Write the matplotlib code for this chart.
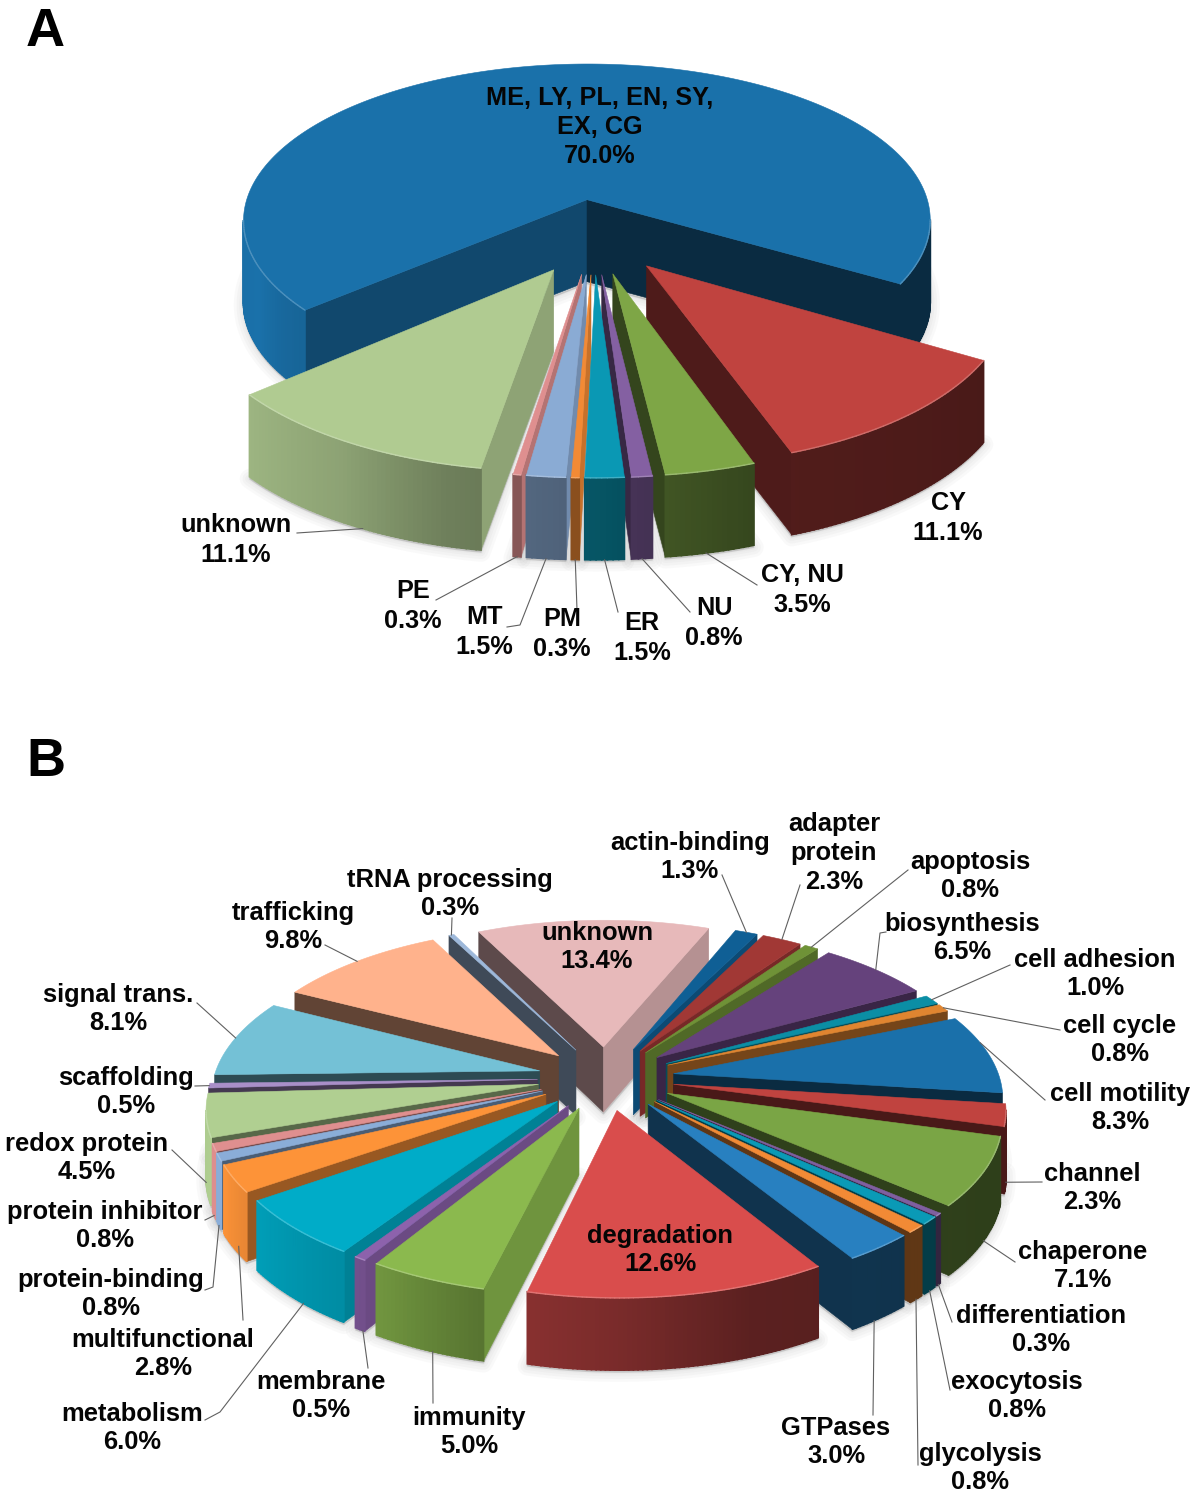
import numpy as np
import matplotlib
matplotlib.use("Agg")
import matplotlib.pyplot as plt

plt.rcParams['font.family'] = ['Liberation Sans', 'DejaVu Sans']

# ---------- panel A data ----------
a_names = ["ME, LY, PL, EN, SY,\nEX, CG", "CY", "CY, NU", "NU", "ER", "PM", "MT", "PE", "unknown"]
a_values = [70.0, 11.1, 3.5, 0.8, 1.5, 0.3, 1.5, 0.3, 11.1]
a_colors = ["#1a71aa", "#c0433f", "#7ea646", "#8460a2", "#0a98b4", "#f28a35", "#8aabd4", "#df8f8f", "#b0cb91"]
a_label_xy = [(600, 127), (948, 518), (802, 590), (714, 623), (642, 638), (562, 634), (484, 632), (413, 606), (236, 540)]
# leader: (arc fraction, end-of-line waypoints)
a_leaders = [None, None,
             (0.55, [(757, 585)]), (0.5, [(690, 612)]), (0.5, [(618, 612)]), (0.5, [(577, 610)]),
             (0.5, [(520, 625), (507, 627)]), (0.5, [(436, 600)]), (0.44, [(297, 533)])]

# ---------- panel B data ----------
b_names = ["unknown", "actin-binding", "adapter\nprotein", "apoptosis", "biosynthesis", "cell adhesion", "cell cycle",
           "cell motility", "channel", "chaperone", "differentiation", "exocytosis", "glycolysis", "GTPases",
           "degradation", "immunity", "membrane", "metabolism", "multifunctional", "protein-binding",
           "protein inhibitor", "redox protein", "scaffolding", "signal trans.", "trafficking", "tRNA processing"]
b_values = [13.4, 1.3, 2.3, 0.8, 6.5, 1.0, 0.8, 8.3, 2.3, 7.1, 0.3, 0.8, 0.8, 3.0, 12.6, 5.0, 0.5, 6.0, 2.8, 0.8, 0.8,
            4.5, 0.5, 8.1, 9.8, 0.3]
b_colors = ["#e7b9ba", "#0f5f95", "#a13835", "#6f9237", "#65427c", "#0b8ea5", "#e08530", "#1a70aa", "#c0433f", "#7aa545",
            "#7f5fa0", "#0a9ab6", "#f28a35", "#2880c0", "#d94d4c", "#8bb94e", "#8d62ac", "#00acc8", "#fd9338", "#8aadd8",
            "#df8f8f", "#b0cf91", "#a98fc8", "#74c1d6", "#ffb28c", "#9db8da"]
b_label_xy = [(597, 947), (690, 857), (834, 853), (970, 876), (962, 938), (1095, 974), (1120, 1040), (1120, 1108),
              (1092, 1188), (1083, 1266), (1041, 1330), (1017, 1396), (980, 1468), (836, 1442), (660, 1250), (469, 1432),
              (321, 1396), (132, 1428), (163, 1354), (111, 1294), (105, 1226), (87, 1158), (126, 1092), (118, 1009),
              (293, 927), (450, 894)]
# leader: (arc fraction, depth fraction, waypoints)
b_leaders = [None, (0.5, 0, [(722, 875)]), (0.5, 0, [(800, 885)]), (0.5, 0, [(908, 870)]),
             (0.5, 0, [(880, 933), (886, 932)]), (0.5, 0, [(1010, 965)]), (0.5, 0, [(1060, 1030)]),
             (0.35, 0, [(1045, 1100)]), (0.5, 1, [(1042, 1182)]), (0.5, 1, [(1015, 1262)]),
             (0.5, 1, [(952, 1322)]), (0.5, 1, [(950, 1390)]), (0.5, 1, [(918, 1465)]), (0.6, 1, [(873, 1415)]),
             None, (0.45, 1, [(433, 1403)]), (0.2, 1, [(368, 1368)]), (0.4, 1, [(220, 1412), (205, 1420)]),
             (0.3, 0.9, [(243, 1320)]), (0.5, 1, [(213, 1287), (205, 1290)]), (0.5, 1, [(205, 1220)]),
             (0.5, 1, [(172, 1150)]), (0.5, 0, [(195, 1086)]), (0.5, 0, [(197, 1003)]), (0.5, 0, [(325, 945)]),
             (0.5, 0, [(452, 918)])]

# ---------- pie geometry (layout) ----------
spec_a = dict(cx=594, cy=236, A=351, B=163.5, c=0.137, e=0.23, h=82, gamma=0.0, start=221.0)
spec_b = dict(cx=606, cy=1078, A=326, B=152, c=0.137, e=0.21, h=66, gamma=0.5, start=116.2)

fig = plt.figure(figsize=(12, 14.98), dpi=100)
ax = fig.add_axes([0, 0, 1, 1])
ax.set_xlim(0, 1200)
ax.set_ylim(1498, 0)
ax.axis('off')


def shade(col, f):
    r = np.array(matplotlib.colors.to_rgb(col))
    return tuple(np.clip(r * f, 0, 1))


def lighten(col, f):
    r = np.array(matplotlib.colors.to_rgb(col))
    return tuple(r + (1 - r) * f)


def outer_shade(theta):
    t = (theta + 180) % 360 - 180
    if t > 90:
        t -= 360
    return np.interp(t, [-220, -180, -155, -145, -120, -104, -90, -70, -30, 90],
                     [0.85, 0.97, 1.0, 0.92, 0.8, 0.63, 0.56, 0.42, 0.38, 0.38])


def radial_shade(n):
    n = (n + 180) % 360 - 180
    return np.interp(n, [-180, -120, -90, -55, -30, 0, 180], [0.42, 0.38, 0.38, 0.6, 0.77, 0.82, 0.5])


def project(s, X, Y, z=0.0):
    p = 1.0 / (1.0 + s['c'] * Y)
    return (s['cx'] + s['A'] * X * p, s['cy'] - s['B'] * Y * p + s['h'] * z * p ** s['gamma'])


def visible(P, Q, I):
    dx, dy = Q[0] - P[0], Q[1] - P[1]
    if dx == 0:
        return False
    return np.sign(dx) * (dx * (I[1] - P[1]) - dy * (I[0] - P[0])) < 0


def draw_pie(values, colors, s):
    vals = np.asarray(values, float)
    sweeps = vals / vals.sum() * 360.0
    ends = s['start'] - np.concatenate([[0], np.cumsum(sweeps)])
    info = []
    for i in range(len(vals)):
        t2, t1 = ends[i], ends[i + 1]
        mid = np.radians((t1 + t2) / 2)
        ox, oy = s['e'] * np.cos(mid), s['e'] * np.sin(mid)
        info.append(dict(i=i, t1=t1, t2=t2, mid=mid, ox=ox, oy=oy, col=colors[i]))

    def arc(w, z=0.0, t=None):
        th = np.radians(np.linspace(w['t1'], w['t2'], max(3, int((w['t2'] - w['t1']) * 1.5)))) if t is None else t
        return [project(s, w['ox'] + np.cos(a), w['oy'] + np.sin(a), z) for a in th]

    for w in info:
        bottom = [project(s, w['ox'], w['oy'], 1.0)] + arc(w, 1.0)
        xs, ys = zip(*bottom)
        ys = np.array(ys) + 2
        for lw in (14, 10, 6, 3):
            ax.fill(xs, ys, facecolor='none', edgecolor='#555555', lw=lw, alpha=0.03, zorder=1, joinstyle='round')
        ax.fill(xs, ys, color='#a0a0a0', alpha=0.35, zorder=1, lw=1)

    z = 10
    for w in sorted(info, key=lambda d: -np.sin(d['mid'])):
        col = w['col']
        apex = project(s, w['ox'], w['oy'])
        apex_b = project(s, w['ox'], w['oy'], 1.0)
        inner = project(s, w['ox'] + 0.5 * np.cos(w['mid']), w['oy'] + 0.5 * np.sin(w['mid']))
        # radial faces
        for t, n in ((w['t2'], w['t2'] + 90), (w['t1'], w['t1'] - 90)):
            a = np.radians(t)
            q = project(s, w['ox'] + np.cos(a), w['oy'] + np.sin(a))
            qb = project(s, w['ox'] + np.cos(a), w['oy'] + np.sin(a), 1.0)
            if visible(apex, q, inner):
                c = shade(col, radial_shade(n))
                ax.fill([apex[0], q[0], qb[0], apex_b[0]], [apex[1], q[1], qb[1], apex_b[1]],
                        color=c, lw=0.4, zorder=z)
                z += 1
        # outer curved face with a lateral gradient
        th_deg = np.linspace(w['t1'], w['t2'], max(3, int((w['t2'] - w['t1']) * 1.5)))
        top = arc(w, 0.0, np.radians(th_deg))
        bot = arc(w, 1.0, np.radians(th_deg))
        for j in range(len(th_deg) - 1):
            if visible(top[j], top[j + 1], inner):
                c = shade(col, outer_shade((th_deg[j] + th_deg[j + 1]) / 2))
                ax.fill([top[j][0], top[j + 1][0], bot[j + 1][0], bot[j][0]],
                        [top[j][1], top[j + 1][1], bot[j + 1][1], bot[j][1]], color=c, lw=1.2, zorder=z)
        z += 1
        # top face
        xs, ys = zip(*([apex] + top))
        ax.fill(xs, ys, color=col, lw=0.4, zorder=z)
        z += 1
        # light rim on the near edge
        for j in range(len(th_deg) - 1):
            if visible(top[j], top[j + 1], inner):
                ax.plot([top[j][0], top[j + 1][0]], [top[j][1], top[j + 1][1]], color=lighten(col, 0.22),
                        lw=1.0, zorder=z, solid_capstyle='round')
        z += 1
    return info, arc


def leader(s, w, frac, depth, points):
    a = np.radians(w['t1'] + (1 - frac) * (w['t2'] - w['t1']))
    p0 = project(s, w['ox'] + np.cos(a), w['oy'] + np.sin(a), depth)
    xs = [p0[0]] + [q[0] for q in points]
    ys = [p0[1]] + [q[1] for q in points]
    ax.plot(xs, ys, color='#606060', lw=0.8, zorder=900)


info_a, _ = draw_pie(a_values, a_colors, spec_a)
for w, l in zip(info_a, a_leaders):
    if l:
        leader(spec_a, w, l[0], 1.0, l[1])
for name, v, (x, y) in zip(a_names, a_values, a_label_xy):
    ax.text(x, y, f"{name}\n{v:.1f}%", ha='center', va='center', fontsize=18.2, fontweight='bold',
            linespacing=1.27, color='#050505', zorder=1000)

info_b, _ = draw_pie(b_values, b_colors, spec_b)
for w, l in zip(info_b, b_leaders):
    if l:
        leader(spec_b, w, l[0], l[1], l[2])
for name, v, (x, y) in zip(b_names, b_values, b_label_xy):
    ax.text(x, y, f"{name}\n{v:.1f}%", ha='center', va='center', fontsize=18.4, fontweight='bold',
            linespacing=1.25, color='#050505', zorder=1000)

ax.text(45, 32, "A", ha='center', va='center', fontsize=39, fontweight='bold', color='black', zorder=1000)
ax.text(46, 762, "B", ha='center', va='center', fontsize=39, fontweight='bold', color='black', zorder=1000)

fig.savefig("out.png", dpi=100, facecolor='white')
